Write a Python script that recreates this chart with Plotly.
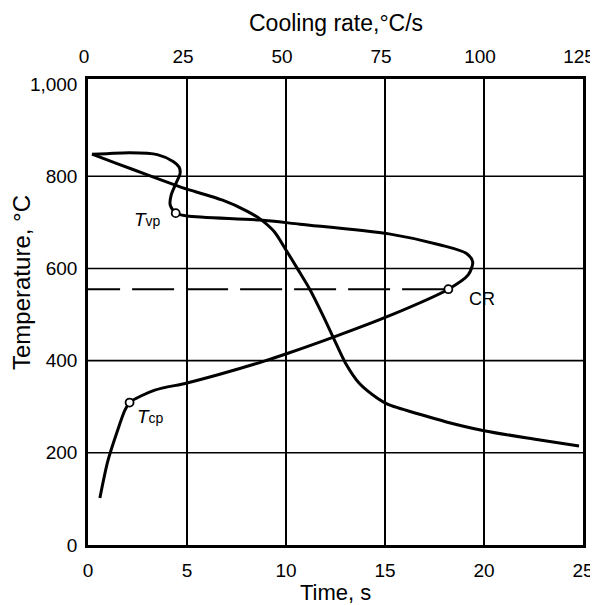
import plotly.graph_objects as go

# ---- data ----
# Cooling curve (time s, temperature C)
cool_t = [0.2, 1.5, 3.0, 4.65, 5.0, 6.8, 8.0, 8.7, 9.4, 10.0, 10.6, 11.2, 11.9, 12.4, 13.0, 13.7, 14.6, 15.15, 16.8, 18.1, 20.0, 22.5, 24.8]
cool_T = [848, 827, 803, 777, 772, 748, 725, 707, 680, 640, 598, 555, 495, 449, 395, 351, 319, 305, 283, 267, 248, 230, 215]

# C-shaped transformation curve
c_t = [0.2, 0.95, 2.1, 3.5, 4.3, 4.6, 4.65, 4.45, 4.2, 4.15, 4.43, 5.0, 8.7, 10.7, 15.2, 17.8, 19.1, 19.43, 19.2, 18.2, 15.2, 12.4, 10.1, 8.9, 6.7, 4.95, 3.37, 2.1, 1.87, 1.45, 1.0, 0.6]
c_T = [848, 849, 851, 847, 832, 820, 806, 785, 759, 738, 720, 714, 705, 696, 675, 651, 633, 614, 586, 555, 497, 451, 416, 399, 371, 351, 336, 309, 293, 243, 182, 102]

# Marked points
pt_names = ["Tvp", "CR", "Tcp"]
pt_t = [4.43, 18.2, 2.1]
pt_T = [720, 555, 309]

# Critical temperature dashed line
cr_T = 555
cr_t_start = -0.5

# Axes
time_ticks = [0, 5, 10, 15, 20, 25]
rate_ticks = [0, 25, 50, 75, 100, 125]
temp_ticks = [0, 200, 400, 600, 800, 1000]
temp_ticktext = ["0", "200", "400", "600", "800", "1,000"]
temp_grid = [200, 400, 600, 800]

FONT = "Liberation Sans, Arial, sans-serif"

fig = go.Figure()

fig.add_trace(go.Scatter(x=[cr_t_start, pt_t[1]], y=[cr_T, cr_T], mode="lines",
                         line=dict(color="black", width=2, dash="42px,12px"),
                         showlegend=False, hoverinfo="skip"))
fig.add_trace(go.Scatter(x=cool_t, y=cool_T, mode="lines",
                         line=dict(color="black", width=3, shape="spline", smoothing=0.8),
                         showlegend=False))
fig.add_trace(go.Scatter(x=c_t, y=c_T, mode="lines",
                         line=dict(color="black", width=3, shape="spline", smoothing=0.8),
                         showlegend=False))
fig.add_trace(go.Scatter(x=pt_t, y=pt_T, mode="markers",
                         marker=dict(symbol="circle", size=8, color="white",
                                     line=dict(color="black", width=1.8)),
                         text=pt_names, showlegend=False))
# invisible trace to activate top axis
fig.add_trace(go.Scatter(x=[rate_ticks[0], rate_ticks[-1]], y=[temp_ticks[0], temp_ticks[0]],
                         xaxis="x2", mode="markers", marker=dict(opacity=0),
                         showlegend=False, hoverinfo="skip"))

shapes = []
for g in temp_grid:
    shapes.append(dict(type="line", xref="paper", yref="y", x0=0, x1=1, y0=g, y1=g,
                       line=dict(color="black", width=1.6), layer="below"))

annotations = [
    dict(text="<i>T</i><span style='font-size:14px'>vp</span>", x=3.0, y=706, xref="x", yref="y",
         showarrow=False, font=dict(size=19, family=FONT, color="black")),
    dict(text="CR", x=19.9, y=534, xref="x", yref="y",
         showarrow=False, font=dict(size=18, family=FONT, color="black")),
    dict(text="<i>T</i><span style='font-size:14px'>cp</span>", x=3.15, y=278, xref="x", yref="y",
         showarrow=False, font=dict(size=19, family=FONT, color="black")),
    dict(text="Temperature, °C", textangle=-90, xref="paper", yref="paper", x=0, y=0.5,
         xanchor="center", yanchor="middle", xshift=-67, yshift=29, showarrow=False,
         font=dict(size=24, family=FONT, color="black")),
    dict(text="Cooling rate,°C/s", xref="paper", yref="paper", x=0.5, y=1, yshift=56,
         xanchor="center", yanchor="middle", showarrow=False,
         font=dict(size=23, family=FONT, color="black")),
    dict(text="Time, s", xref="paper", yref="paper", x=0.5, y=0, yshift=-47,
         xanchor="center", yanchor="middle", showarrow=False,
         font=dict(size=22, family=FONT, color="black")),
]

fig.update_layout(
    width=590, height=597,
    margin=dict(l=80, r=15, t=71, b=60),
    paper_bgcolor="white", plot_bgcolor="white",
    font=dict(family=FONT, color="black", size=19),
    shapes=shapes, annotations=annotations,
    xaxis=dict(range=[0, 25], tickvals=time_ticks, showgrid=True, gridcolor="black",
               gridwidth=1.6, showline=True, linecolor="black", linewidth=2.5,
               ticks="", zeroline=False, tickfont=dict(size=19), ticklabelstandoff=6,
               automargin=False),
    xaxis2=dict(range=[0, 125], tickvals=rate_ticks, overlaying="x", side="top",
                showgrid=False, showline=True, linecolor="black", linewidth=2.5,
                ticks="", zeroline=False, tickfont=dict(size=19), ticklabelstandoff=6,
                ticklabelshift=-4, automargin=False),
    yaxis=dict(range=[0, 1011], tickvals=temp_ticks, ticktext=temp_ticktext,
               showgrid=False, showline=True, mirror=True, linecolor="black", linewidth=2.5,
               ticks="", zeroline=False, tickfont=dict(size=19), ticklabelstandoff=4,
               automargin=False),
)

fig.write_html("out.html")
